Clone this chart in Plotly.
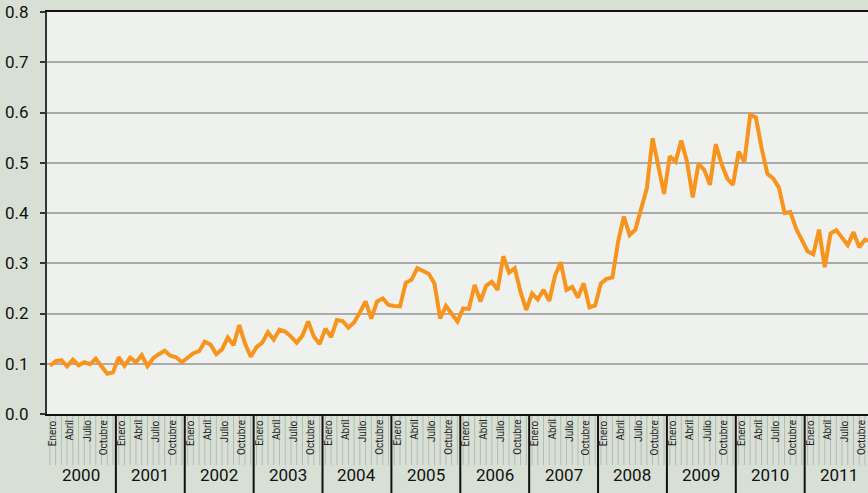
import plotly.graph_objects as go

years = ["2000", "2001", "2002", "2003", "2004", "2005", "2006", "2007", "2008", "2009", "2010", "2011"]
month_labels = ["Enero", "", "", "Abril", "", "", "Julio", "", "", "Octubre", "", ""]

v2000 = [0.096, 0.105, 0.107, 0.095, 0.108, 0.097, 0.103, 0.099, 0.110, 0.095, 0.080, 0.083]
v2001 = [0.113, 0.096, 0.112, 0.103, 0.117, 0.095, 0.111, 0.119, 0.126, 0.116, 0.113, 0.103]
v2002 = [0.111, 0.121, 0.125, 0.144, 0.138, 0.119, 0.129, 0.152, 0.137, 0.177, 0.140, 0.114]
v2003 = [0.133, 0.142, 0.163, 0.148, 0.168, 0.164, 0.154, 0.142, 0.156, 0.184, 0.154, 0.139]
v2004 = [0.170, 0.153, 0.187, 0.185, 0.172, 0.182, 0.202, 0.224, 0.190, 0.224, 0.230, 0.217]
v2005 = [0.215, 0.214, 0.261, 0.267, 0.290, 0.285, 0.279, 0.260, 0.190, 0.215, 0.200, 0.184]
v2006 = [0.210, 0.209, 0.257, 0.224, 0.255, 0.263, 0.247, 0.314, 0.281, 0.290, 0.243, 0.207]
v2007 = [0.240, 0.228, 0.247, 0.225, 0.275, 0.302, 0.247, 0.253, 0.232, 0.260, 0.212, 0.216]
v2008 = [0.260, 0.269, 0.272, 0.343, 0.393, 0.356, 0.367, 0.409, 0.449, 0.549, 0.491, 0.438]
v2009 = [0.513, 0.502, 0.544, 0.502, 0.431, 0.498, 0.486, 0.456, 0.537, 0.498, 0.469, 0.456]
v2010 = [0.522, 0.502, 0.595, 0.590, 0.529, 0.478, 0.469, 0.451, 0.400, 0.402, 0.369, 0.345]
v2011 = [0.324, 0.318, 0.367, 0.292, 0.359, 0.366, 0.351, 0.336, 0.362, 0.332, 0.347, 0.343]

values = (v2000 + v2001 + v2002 + v2003 + v2004 + v2005 + v2006 + v2007
          + v2008 + v2009 + v2010 + v2011)
x_idx = list(range(len(values)))

FONT = "Roboto, Liberation Sans Narrow, sans-serif"
BG = "#d8e0d6"
PLOT_BG = "#eff1ee"
ORANGE = "#f7941e"

fig = go.Figure()
fig.add_trace(go.Scatter(
    x=x_idx, y=values, mode="lines",
    line=dict(color=ORANGE, width=4, shape="linear"),
    hoverinfo="skip", showlegend=False, cliponaxis=True,
))

x_max = -0.5 + 821 / 5.74

shapes = []
annotations = []
for i in range(len(values)):
    if i > x_max:
        break
    shapes.append(dict(type="line", xref="x", yref="paper", x0=i, x1=i, y0=0, y1=-0.127,
                       line=dict(color="#b4bbb3", width=1), layer="below"))
    lbl = month_labels[i % 12]
    if lbl:
        annotations.append(dict(x=i + 0.4, y=-0.01, xref="x", yref="paper", text=lbl,
                                showarrow=False, textangle=-90, xanchor="center", yanchor="top",
                                font=dict(family=FONT, size=10, color="#222222")))
for k, yr in enumerate(years):
    xb = -0.5 + 12 * k
    if k > 0:
        shapes.append(dict(type="line", xref="x", yref="paper", x0=xb, x1=xb, y0=0, y1=-0.2,
                           line=dict(color="#111111", width=2)))
    xc = 5.5 + 12 * k
    annotations.append(dict(x=xc, y=-0.152, xref="x", yref="paper", text=yr, showarrow=False,
                            xanchor="center", yanchor="middle",
                            font=dict(family=FONT, size=17, color="#111111")))

fig.update_layout(
    width=868, height=493,
    margin=dict(l=47, r=0, t=12, b=79),
    paper_bgcolor=BG, plot_bgcolor=PLOT_BG,
    shapes=shapes, annotations=annotations,
    xaxis=dict(range=[-0.5, x_max], showgrid=False, zeroline=False, showticklabels=False,
               ticks="", showline=True, linecolor="#111111", linewidth=2, mirror=True,
               automargin=False),
    yaxis=dict(range=[0, 0.8], dtick=0.1, tickformat=".1f", showgrid=True,
               gridcolor="#aaabaa", gridwidth=1.5, zeroline=False,
               showline=True, linecolor="#333333", linewidth=2,
               ticks="outside", ticklen=5, tickcolor="#333333", tickwidth=1.5,
               ticklabelstandoff=8, automargin=False,
               tickfont=dict(family=FONT, size=17, color="#111111")),
)

fig.write_html("out.html", config={"displayModeBar": False},
               post_script="document.body.style.margin='0px';")
